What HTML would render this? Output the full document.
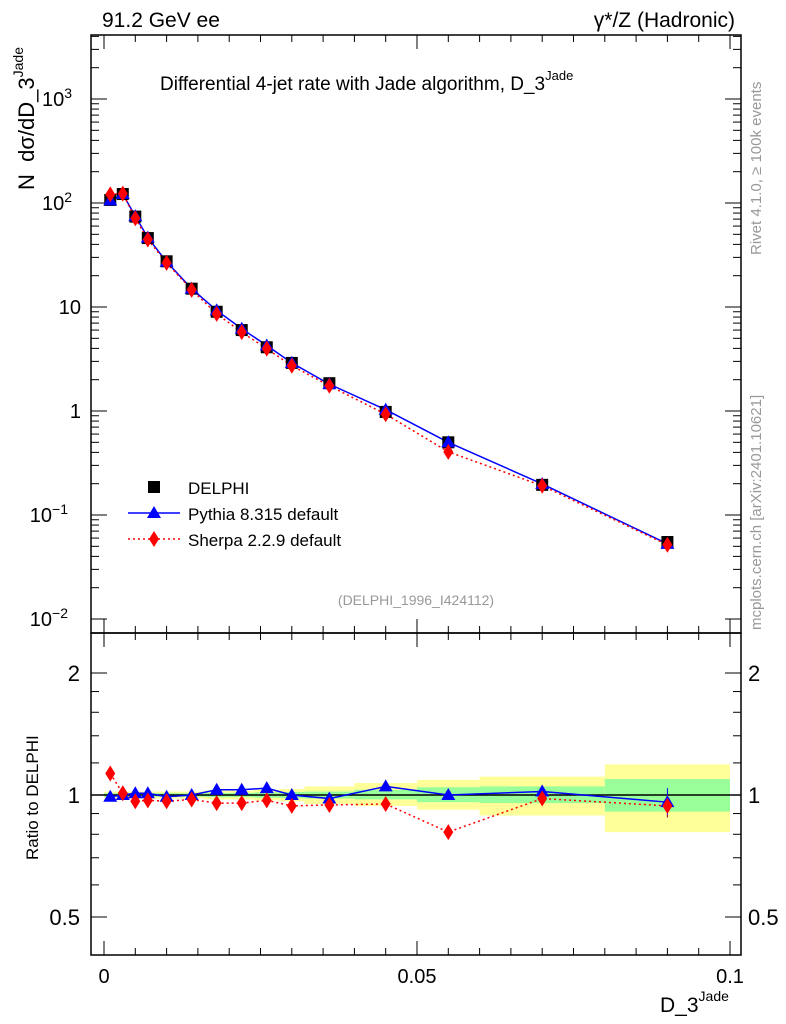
<!DOCTYPE html>
<html><head><meta charset="utf-8"><style>
body{margin:0;background:#fff;}
svg{display:block;font-family:"Liberation Sans",sans-serif;}
</style></head><body>
<svg id="c" width="786" height="1024" xmlns="http://www.w3.org/2000/svg"></svg>
<script>
const xs=[0.001,0.003,0.005,0.007,0.010,0.014,0.018,0.022,0.026,0.030,0.036,0.045,0.055,0.070,0.090];
const delphi=[107,122,74,46,27.5,15,9,6,4.1,2.9,1.85,0.98,0.5,0.195,0.055];
const pythiaRatio=[0.99,1.0,1.01,1.01,0.99,1.0,1.03,1.03,1.04,1.0,0.98,1.05,1.0,1.02,0.96];
const sherpaRatio=[1.13,1.01,0.965,0.97,0.965,0.975,0.955,0.955,0.97,0.94,0.945,0.95,0.81,0.98,0.94];
const binEdges=[0,0.002,0.004,0.006,0.008,0.012,0.016,0.02,0.024,0.028,0.032,0.04,0.05,0.06,0.08,0.1];
const yellowUp=[1.02,1.02,1.02,1.02,1.02,1.02,1.025,1.025,1.03,1.035,1.05,1.07,1.09,1.11,1.19];
const yellowDn=[0.98,0.98,0.98,0.98,0.98,0.98,0.975,0.975,0.97,0.965,0.95,0.94,0.92,0.89,0.81];
const greenUp=[1.01,1.01,1.01,1.01,1.01,1.01,1.012,1.012,1.015,1.018,1.02,1.03,1.045,1.05,1.095];
const greenDn=[0.99,0.99,0.99,0.99,0.99,0.99,0.988,0.988,0.985,0.982,0.98,0.975,0.96,0.955,0.91];
const pErr=[0.01,0.01,0.01,0.01,0.01,0.01,0.01,0.01,0.01,0.015,0.015,0.02,0.025,0.03,0.08];
const sErr=[0.01,0.01,0.01,0.01,0.01,0.01,0.01,0.01,0.01,0.015,0.015,0.02,0.025,0.03,0.06];

const NS="http://www.w3.org/2000/svg";
const svg=document.getElementById('c');
const L=91,R=741,T=35,M=633,B=955;
const X=v=>104+v*6260;
const Y=v=>411-104*Math.log10(v);
const RY=r=>795-122*Math.log2(r);
function el(tag,attrs,parent){const e=document.createElementNS(NS,tag);for(const k in attrs)e.setAttribute(k,attrs[k]);(parent||svg).appendChild(e);return e;}
function txt(s,x,y,size,attrs){const t=el('text',Object.assign({x:x,y:y,'font-size':size},attrs||{}));t.textContent=s;return t;}

for(let i=0;i<yellowUp.length;i++){
 const r=el('rect',{x:X(binEdges[i]),y:RY(yellowUp[i]),width:X(binEdges[i+1])-X(binEdges[i]),height:RY(yellowDn[i])-RY(yellowUp[i]),fill:'#ffff99'});
 
 
 const g=el('rect',{x:X(binEdges[i]),y:RY(greenUp[i]),width:X(binEdges[i+1])-X(binEdges[i]),height:RY(greenDn[i])-RY(greenUp[i]),fill:'#99ff99'});
 
 
}
el('line',{x1:L,x2:R,y1:RY(1),y2:RY(1),stroke:'#000','stroke-width':1.5});

el('rect',{x:L,y:T,width:R-L,height:M-T,fill:'none',stroke:'#000','stroke-width':1.5});
el('rect',{x:L,y:M,width:R-L,height:B-M,fill:'none',stroke:'#000','stroke-width':1.5});

for(let k=0;k<=20;k++){const v=k*0.005,x=X(v),len=k%10==0?14:7;
 el('line',{x1:x,x2:x,y1:B,y2:B-len,stroke:'#000'});el('line',{x1:x,x2:x,y1:M,y2:M-len,stroke:'#000'});
 el('line',{x1:x,x2:x,y1:M,y2:M+len,stroke:'#000'});el('line',{x1:x,x2:x,y1:T,y2:T+len,stroke:'#000'});}
[[0,'0'],[0.05,'0.05'],[0.1,'0.1']].forEach(a=>{const t=txt(a[1],X(a[0]),983,20,{'text-anchor':'middle'});});

for(let e=-2;e<=3;e++){for(let m=1;m<10;m++){const v=m*Math.pow(10,e),y=Y(v);if(y<T||y>M)continue;const len=m==1?16:8;
 el('line',{x1:L,x2:L+len,y1:y,y2:y,stroke:'#000'});el('line',{x1:R,x2:R-len,y1:y,y2:y,stroke:'#000'});}}
[[1000,'10','3'],[100,'10','2'],[10,'10',''],[1,'1',''],[0.1,'10','−1'],[0.01,'10','−2']].forEach(a=>{
 const y=Y(a[0])+7;const t=txt('',81,y,20,{'text-anchor':'end'});
 
 if(a[2]){t.setAttribute('x',a[2].length>1?68:72);t.textContent=a[1];const s=el('tspan',{dy:-8,'font-size':14},t);s.textContent=a[2];}
 else t.textContent=a[0]==10?'10':'1';});
[0.5,0.6,0.7,0.8,0.9,1,1.2,1.4,1.6,1.8,2].forEach(r=>{const y=RY(r);if(y<M||y>B)return;const len=(r==0.5||r==1||r==2)?16:8;
 el('line',{x1:L,x2:L+len,y1:y,y2:y,stroke:'#000'});el('line',{x1:R,x2:R-len,y1:y,y2:y,stroke:'#000'});});
[[2,'2'],[1,'1'],[0.5,'0.5']].forEach(a=>{txt(a[1],80,RY(a[0])+8,22,{'text-anchor':'end'});txt(a[1],748,RY(a[0])+8,22);});

const pythiaVals=delphi.map((d,i)=>d*pythiaRatio[i]);
const sherpaVals=delphi.map((d,i)=>d*sherpaRatio[i]);
const pl=el('polyline',{points:xs.map((x,i)=>X(x)+','+Y(pythiaVals[i])).join(' '),fill:'none',stroke:'#0000ff','stroke-width':1.5});

const sl=el('polyline',{points:xs.map((x,i)=>X(x)+','+Y(sherpaVals[i])).join(' '),fill:'none',stroke:'#ff0000','stroke-width':1.5,'stroke-dasharray':'2,3'});

function square(x,y){return el('rect',{x:x-6,y:y-6,width:12,height:12,fill:'#000'});}
function tri(x,y){return el('polygon',{points:`${x},${y-7} ${x-7},${y+5} ${x+7},${y+5}`,fill:'#0000ff'});}
function dia(x,y){return el('polygon',{points:`${x},${y-8} ${x+5},${y} ${x},${y+8} ${x-5},${y}`,fill:'#ff0000'});}
xs.forEach((x,i)=>{const s=square(X(x),Y(delphi[i]));});
xs.forEach((x,i)=>{const t=tri(X(x),Y(pythiaVals[i]));});
xs.forEach((x,i)=>{const d=dia(X(x),Y(sherpaVals[i]));});

const pr=el('polyline',{points:xs.map((x,i)=>X(x)+','+RY(pythiaRatio[i])).join(' '),fill:'none',stroke:'#0000ff','stroke-width':1.5});

const sr=el('polyline',{points:xs.map((x,i)=>X(x)+','+RY(sherpaRatio[i])).join(' '),fill:'none',stroke:'#ff0000','stroke-width':1.5,'stroke-dasharray':'2,3'});

xs.forEach((x,i)=>{const cx=X(x);
 el('line',{x1:cx,x2:cx,y1:RY(pythiaRatio[i]+pErr[i]),y2:RY(pythiaRatio[i]-pErr[i]),stroke:'#0000ff'});
 el('line',{x1:cx,x2:cx,y1:RY(sherpaRatio[i]+sErr[i]),y2:RY(sherpaRatio[i]-sErr[i]),stroke:'#ff0000','stroke-dasharray':'2,2'});
 const t=tri(cx,RY(pythiaRatio[i]));
 const d=dia(cx,RY(sherpaRatio[i]));});

const lg=el('g',{});
square(154,487);txt('DELPHI',188,494,17);
el('line',{x1:128,x2:180,y1:513,y2:513,stroke:'#0000ff','stroke-width':1.5});tri(154,513);txt('Pythia 8.315 default',188,520,17);
el('line',{x1:128,x2:180,y1:539,y2:539,stroke:'#ff0000','stroke-width':1.5,'stroke-dasharray':'2,3'});dia(154,539);txt('Sherpa 2.2.9 default',188,546,17);

txt('91.2 GeV ee',102,27,21);
txt('γ*/Z (Hadronic)',735,27,21,{'text-anchor':'end'});
const tt=txt('Differential 4-jet rate with Jade algorithm, D_3',160,90,19);
const ts=el('tspan',{dy:-10,'font-size':13},tt);ts.textContent='Jade';
txt('(DELPHI_1996_I424112)',416,605,14,{'text-anchor':'middle',fill:'#999'});
txt('Rivet 4.1.0, ≥ 100k events',0,0,15,{fill:'#999',transform:'translate(761,255) rotate(-90)'});
txt('mcplots.cern.ch [arXiv:2401.10621]',0,0,15,{fill:'#999',transform:'translate(761,630) rotate(-90)'});
const yl=txt('N\u00a0\u00a0dσ/dD_3',0,0,22,{transform:'translate(34,190) rotate(-90)'});
const ys=el('tspan',{dy:-11,'font-size':14},yl);ys.textContent='Jade';
txt('Ratio to DELPHI',0,0,17,{transform:'translate(38,860) rotate(-90)'});
const xl=txt('D_3',660,1012,21);
const xs2=el('tspan',{dy:-11,'font-size':14},xl);xs2.textContent='Jade';
</script>
</body></html>
